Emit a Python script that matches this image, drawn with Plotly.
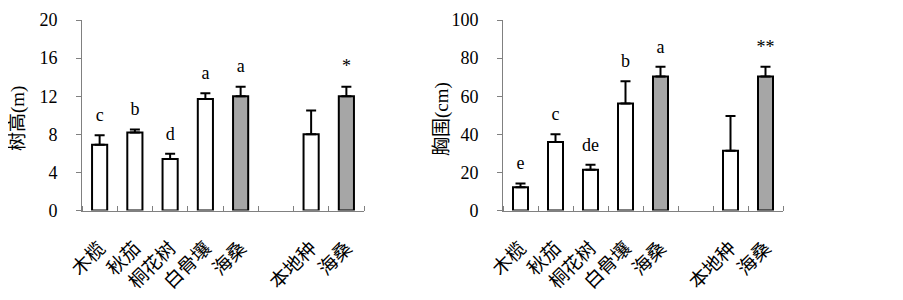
import plotly.graph_objects as go

categories = ["木榄", "秋茄", "桐花树", "白骨壤", "海桑", "", "本地种", "海桑"]
is_haisang = [False, False, False, False, True, False, False, True]

height_mean = [6.9, 8.2, 5.4, 11.7, 12.0, None, 8.0, 12.0]
height_err = [1.0, 0.3, 0.55, 0.6, 1.0, None, 2.5, 1.0]
height_sig = ["c", "b", "d", "a", "a", "", "", "*"]

dbh_mean = [12.2, 36.0, 21.4, 56.2, 70.4, None, 31.3, 70.4]
dbh_err = [2.0, 4.0, 2.6, 11.6, 5.0, None, 18.3, 5.0]
dbh_sig = ["e", "c", "de", "b", "a", "", "", "**"]

FONT = "'Liberation Serif', 'Noto Sans CJK SC', serif"
NUMFONT = "Liberation Serif"

xs = list(range(len(categories)))
fills = ["#a6a6a6" if h else "white" for h in is_haisang]

fig = go.Figure()

panels = [
    ("x", "y", height_mean, height_err, height_sig, [0, 20], 4, "树高(m)"),
    ("x2", "y2", dbh_mean, dbh_err, dbh_sig, [0, 100], 20, "胸围(cm)"),
]

for xa, ya, mean, err, sig, yr, dt, title in panels:
    fig.add_trace(go.Bar(
        x=xs, y=mean, xaxis=xa, yaxis=ya,
        marker=dict(color=fills, line=dict(color="black", width=2)),
        width=0.43,
        error_y=dict(type="data", array=err, arrayminus=[0 if e is not None else None for e in err],
                     symmetric=False, color="black", thickness=2, width=5),
        showlegend=False, hoverinfo="skip",
    ))
    tops = [m + e if m is not None else None for m, e in zip(mean, err)]
    fig.add_trace(go.Scatter(
        x=xs, y=tops, xaxis=xa, yaxis=ya, mode="markers+text",
        text=sig, textposition="top center",
        marker=dict(size=14, opacity=0),
        textfont=dict(family=NUMFONT, size=18, color="black"),
        showlegend=False, hoverinfo="skip", cliponaxis=False,
    ))

# page body has an 8px margin; figure coordinates are offset accordingly
OFF = 8
W, H = 903 - OFF, 300 - OFF
xdom = [[(82 - OFF) / W, (364 - OFF) / W], [(503 - OFF) / W, (783 - OFF) / W]]
ydom = [1 - (210.5 - OFF) / H, 1 - (20 - OFF) / H]

for i, (xa, ya, mean, err, sig, yr, dt, title) in enumerate(panels):
    xk = "xaxis" if i == 0 else "xaxis2"
    yk = "yaxis" if i == 0 else "yaxis2"
    fig.update_layout(**{
        xk: dict(
            domain=xdom[i], anchor=ya, range=[-0.5, len(categories) - 0.5],
            tickmode="array", tickvals=xs, ticktext=categories, ticks="",
            tickangle=-45, ticklabelstandoff=18,
            tickfont=dict(family=FONT, size=19, color="black"),
            showline=True, linecolor="#808080", linewidth=1,
            showgrid=False, zeroline=False, automargin=False,
            minor=dict(tickmode="array", tickvals=[v - 0.5 for v in xs] + [len(xs) - 0.5],
                       ticks="inside", ticklen=5, tickcolor="#808080", tickwidth=1, showgrid=False),
        ),
        yk: dict(
            domain=ydom, anchor=xa, range=yr, dtick=dt, tick0=0,
            ticks="outside", ticklen=5, tickcolor="#808080", tickwidth=1,
            ticklabelstandoff=15,
            tickfont=dict(family=NUMFONT, size=18, color="black"),
            showline=True, linecolor="#808080", linewidth=1,
            showgrid=False, zeroline=False, automargin=False,
        ),
    })

title_x = [(18 - OFF) / W, (442 - OFF) / W]
for i, p in enumerate(panels):
    fig.add_annotation(
        text=p[7], xref="paper", yref="paper", x=title_x[i], y=1 - (119 - OFF) / H,
        textangle=-90, showarrow=False, xanchor="center", yanchor="middle",
        font=dict(family=FONT, size=19, color="black"),
    )

fig.update_layout(
    width=W, height=H, margin=dict(l=0, r=0, t=0, b=0),
    plot_bgcolor="white", paper_bgcolor="white",
)

fig.write_html("out.html")
